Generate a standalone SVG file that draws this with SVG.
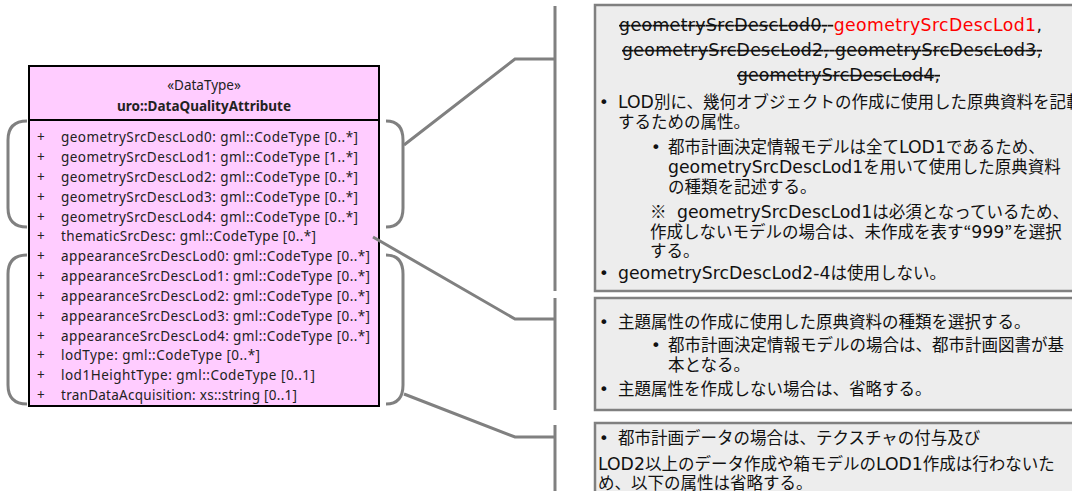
<svg xmlns="http://www.w3.org/2000/svg" width="1072" height="491" viewBox="0 0 1072 491">
<style>
.cls{fill:#ffccff;stroke:#000;stroke-width:2}
.sep{stroke:#000;stroke-width:2}
.ct{font-family:"Noto Sans","Liberation Sans",sans-serif;font-size:13.5px;fill:#222}
.hd{text-anchor:middle}
.b{font-weight:bold}
.br{fill:none;stroke:#808080;stroke-width:3;stroke-linecap:butt}
.note{fill:#ededed;stroke:#808080;stroke-width:2.5}
.nt{font-family:"DejaVu Sans","Noto Sans CJK JP",sans-serif;font-size:16.5px;fill:#111}
.hl{font-size:17.3px}
.lt{font-size:17.3px}
.jp{font-family:"Noto Sans CJK JP",sans-serif}
.st{text-decoration:line-through}
.red{fill:#ff0000}
</style>
<g id="class-DataQualityAttribute">
<rect class="cls" x="29" y="66" width="350" height="340"/>
<line class="sep" x1="29" y1="120" x2="379" y2="120"/>
<text class="ct hd" x="204" y="90">«DataType»</text>
<text class="ct hd b" x="204" y="111">uro::DataQualityAttribute</text>
<g class="ct">
<text x="37" y="142">+</text><text x="61" y="142" textLength="297">geometrySrcDescLod0: gml::CodeType [0..*]</text>
<text x="37" y="162">+</text><text x="61" y="162" textLength="297">geometrySrcDescLod1: gml::CodeType [1..*]</text>
<text x="37" y="182">+</text><text x="61" y="182" textLength="297">geometrySrcDescLod2: gml::CodeType [0..*]</text>
<text x="37" y="201.5">+</text><text x="61" y="201.5" textLength="297">geometrySrcDescLod3: gml::CodeType [0..*]</text>
<text x="37" y="221.5">+</text><text x="61" y="221.5" textLength="297">geometrySrcDescLod4: gml::CodeType [0..*]</text>
<text x="37" y="241">+</text><text x="61" y="241" textLength="255">thematicSrcDesc: gml::CodeType [0..*]</text>
<text x="37" y="261">+</text><text x="61" y="261" textLength="309">appearanceSrcDescLod0: gml::CodeType [0..*]</text>
<text x="37" y="281">+</text><text x="61" y="281" textLength="309">appearanceSrcDescLod1: gml::CodeType [0..*]</text>
<text x="37" y="301">+</text><text x="61" y="301" textLength="309">appearanceSrcDescLod2: gml::CodeType [0..*]</text>
<text x="37" y="320.5">+</text><text x="61" y="320.5" textLength="309">appearanceSrcDescLod3: gml::CodeType [0..*]</text>
<text x="37" y="340.5">+</text><text x="61" y="340.5" textLength="309">appearanceSrcDescLod4: gml::CodeType [0..*]</text>
<text x="37" y="360">+</text><text x="61" y="360" textLength="199">lodType: gml::CodeType [0..*]</text>
<text x="37" y="380">+</text><text x="61" y="380" textLength="254">lod1HeightType: gml::CodeType [0..1]</text>
<text x="37" y="400">+</text><text x="61" y="400" textLength="236">tranDataAcquisition: xs::string [0..1]</text>
</g>
</g>
<g id="connectors">
<path class="br" d="M27,121 Q8,121 8,140 L8,208 Q8,227 27,227"/>
<path class="br" d="M27,255 Q8,255 8,274 L8,385 Q8,404 27,404"/>
<path class="br" d="M386,121 Q403,121 403,140 L403,208 Q403,227 386,227"/>
<path class="br" d="M386,255 Q403,255 403,274 L403,385 Q403,404 386,404"/>
<polyline class="br" points="404,145 515,59 555,59"/>
<polyline class="br" points="373,237 515,319 555,319"/>
<polyline class="br" points="404,394 515,437 555,437"/>
<line class="br" x1="555" y1="6" x2="555" y2="291"/>
<line class="br" x1="555" y1="298" x2="555" y2="410"/>
<line class="br" x1="555" y1="425" x2="555" y2="491"/>
</g>
<g id="note-geometry">
<rect class="note" x="595" y="5" width="500" height="286"/>
<g class="nt">
<text class="hl" x="619" y="31" textLength="423"><tspan class="st">geometrySrcDescLod0, </tspan><tspan class="red">geometrySrcDescLod1</tspan>,</text>
<text class="hl st" x="622" y="56" textLength="420">geometrySrcDescLod2, geometrySrcDescLod3,</text>
<text class="hl st" x="737" y="81" textLength="203">geometrySrcDescLod4,</text>
<text x="599" y="108">•</text>
<text x="618" y="108"><tspan class="lt">LOD</tspan>別に、幾何オブジェクトの作成に使用した原典資料を記載</text>
<text x="618" y="128">するための属性。</text>
<text x="651" y="153">•</text>
<text x="668" y="153">都市計画決定情報モデルは全て<tspan class="lt">LOD1</tspan>であるため、</text>
<text x="668" y="173"><tspan class="lt">geometrySrcDescLod1</tspan>を用いて使用した原典資料</text>
<text x="668" y="193">の種類を記述する。</text>
<text x="650" y="218"><tspan class="jp">※</tspan><tspan class="lt" x="677">geometrySrcDescLod1</tspan>は必須となっているため、</text>
<text x="650" y="238">作成しないモデルの場合は、未作成を表す<tspan class="jp">“</tspan><tspan class="lt">999</tspan><tspan class="jp">”</tspan>を選択</text>
<text x="650" y="257">する。</text>
<text x="599" y="279">•</text>
<text x="618" y="279"><tspan class="lt">geometrySrcDescLod2-4</tspan>は使用しない。</text>
</g>
</g>
<g id="note-thematic">
<rect class="note" x="595" y="298" width="500" height="112"/>
<g class="nt">
<text x="599" y="328">•</text>
<text x="618" y="328">主題属性の作成に使用した原典資料の種類を選択する。</text>
<text x="651" y="351">•</text>
<text x="668" y="351">都市計画決定情報モデルの場合は、都市計画図書が基</text>
<text x="668" y="371">本となる。</text>
<text x="599" y="395">•</text>
<text x="618" y="395">主題属性を作成しない場合は、省略する。</text>
</g>
</g>
<g id="note-appearance">
<rect class="note" x="595" y="423" width="500" height="90"/>
<g class="nt">
<text x="599" y="444">•</text>
<text x="618" y="444">都市計画データの場合は、テクスチャの付与及び</text>
<text x="598" y="470"><tspan class="lt">LOD2</tspan>以上のデータ作成や箱モデルの<tspan class="lt">LOD1</tspan>作成は行わないた</text>
<text x="598" y="489">め、以下の属性は省略する。</text>
</g>
</g>
</svg>
